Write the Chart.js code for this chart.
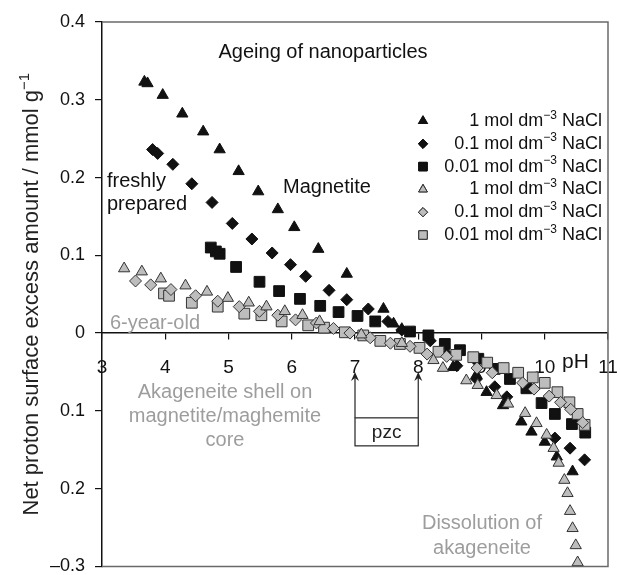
<!DOCTYPE html>
<html>
<head>
<meta charset="utf-8">
<script src="https://cdn.jsdelivr.net/npm/chart.js@4/dist/chart.umd.min.js"></script>
<style>
  body { margin: 0; background: #fff; }
</style>
</head>
<body>
<canvas id="chart" width="620" height="575"></canvas>
<script>
// tick labels
var xTickLabels = ["3", "4", "5", "6", "7", "8", "9", "10", "11"];
var yTickLabels = ["\u20130.3", "0.2", "0.1", "0", "0.1", "0.2", "0.3", "0.4"];

// NaCl concentrations used in the legend
var concLabels = ["1", "0.1", "0.01", "1", "0.1", "0.01"];

// freshly prepared magnetite (black markers)
var freshTriPH = [3.67, 3.72, 3.96, 4.27, 4.60, 4.86, 5.16, 5.47, 5.78, 6.04, 6.42, 6.87, 7.45, 7.61, 7.74, 8.55, 8.92, 9.08, 9.34, 9.63, 9.79, 10.00, 10.19, 10.44];
var freshTriQ = [0.323, 0.321, 0.306, 0.282, 0.259, 0.236, 0.208, 0.182, 0.159, 0.136, 0.108, 0.076, 0.031, 0.012, 0.005, -0.044, -0.054, -0.076, -0.093, -0.114, -0.127, -0.140, -0.159, -0.178];

var freshDiaPH = [3.80, 3.88, 4.12, 4.42, 4.74, 5.06, 5.37, 5.69, 5.98, 6.22, 6.59, 6.87, 7.21, 7.52, 7.74, 8.19, 8.45, 8.61, 8.92, 9.21, 9.40, 10.16, 10.40, 10.63];
var freshDiaQ = [0.236, 0.231, 0.217, 0.192, 0.168, 0.141, 0.121, 0.103, 0.088, 0.073, 0.055, 0.043, 0.031, 0.015, 0.004, -0.010, -0.027, -0.042, -0.059, -0.069, -0.082, -0.135, -0.148, -0.163];

var freshSqPH = [4.72, 4.80, 4.86, 5.12, 5.49, 5.80, 6.13, 6.45, 6.74, 7.04, 7.32, 7.87, 8.16, 8.42, 8.66, 8.95, 9.21, 9.45, 9.71, 9.95, 10.16, 10.43, 10.64];
var freshSqQ = [0.110, 0.105, 0.102, 0.085, 0.066, 0.054, 0.044, 0.035, 0.027, 0.022, 0.015, 0.002, -0.003, -0.014, -0.022, -0.033, -0.046, -0.059, -0.071, -0.090, -0.104, -0.117, -0.128];

// 6-year-old particles (grey markers)
var agedTriPH = [3.35, 3.63, 3.93, 4.32, 4.66, 4.99, 5.32, 5.60, 5.89, 6.17, 6.44, 7.10, 7.74, 8.24, 8.39, 8.76, 8.94, 9.24, 9.42, 9.69, 9.87, 10.03, 10.14, 10.22, 10.31, 10.36, 10.40, 10.44, 10.49, 10.52];
var agedTriQ = [0.083, 0.079, 0.070, 0.061, 0.053, 0.045, 0.039, 0.034, 0.028, 0.023, 0.015, -0.002, -0.013, -0.035, -0.045, -0.061, -0.067, -0.080, -0.091, -0.103, -0.116, -0.131, -0.148, -0.167, -0.189, -0.206, -0.229, -0.251, -0.273, -0.295];

var agedDiaPH = [3.53, 3.77, 4.09, 4.48, 4.83, 5.17, 5.49, 5.78, 6.06, 6.39, 6.66, 6.92, 7.24, 7.56, 7.87, 8.14, 8.45, 8.93, 9.17, 9.65, 9.83, 10.07, 10.25, 10.41, 10.60];
var agedDiaQ = [0.067, 0.062, 0.056, 0.048, 0.041, 0.034, 0.028, 0.023, 0.017, 0.013, 0.006, 0.000, -0.006, -0.013, -0.017, -0.027, -0.030, -0.045, -0.051, -0.064, -0.072, -0.081, -0.089, -0.098, -0.115];

var agedSqPH = [3.98, 4.06, 4.42, 4.83, 5.25, 5.52, 5.84, 6.26, 6.51, 6.84, 7.13, 7.40, 7.71, 8.02, 8.32, 8.60, 8.87, 9.09, 9.35, 9.58, 9.81, 10.00, 10.20, 10.39, 10.52, 10.63];
var agedSqQ = [0.051, 0.048, 0.039, 0.034, 0.025, 0.023, 0.015, 0.010, 0.007, 0.001, -0.003, -0.010, -0.014, -0.019, -0.024, -0.028, -0.031, -0.038, -0.045, -0.051, -0.057, -0.064, -0.076, -0.089, -0.104, -0.118];

var FONT = "'Liberation Sans', Arial, Helvetica, sans-serif";
var GREY_TEXT = "#9d9d9d";

function toPoints(xs, ys) {
    return xs.map(function (x, i) { return { x: x, y: ys[i] }; });
}

function series(xs, ys, style, radius, fill, stroke, order) {
    return {
        data: toPoints(xs, ys),
        pointStyle: style,
        pointRadius: radius,
        pointHoverRadius: radius,
        pointBackgroundColor: fill,
        pointBorderColor: stroke,
        pointBorderWidth: 1,
        showLine: false,
        order: order,
    };
}

var datasets = [
    series(freshTriPH, freshTriQ, "triangle", 6.5, "#111", "#111", 1),
    series(freshDiaPH, freshDiaQ, "rectRot", 6, "#111", "#111", 1),
    series(freshSqPH, freshSqQ, "rect", 7.6, "#111", "#111", 1),
    series(agedTriPH, agedTriQ, "triangle", 6.5, "#bdbdbd", "#333", 0),
    series(agedDiaPH, agedDiaQ, "rectRot", 6, "#bdbdbd", "#333", 0),
    series(agedSqPH, agedSqQ, "rect", 7.6, "#bdbdbd", "#333", 0),
];

// legend markers are drawn a bit smaller than the plotted points
var legendRadius = [5, 4.6, 6, 5, 4.6, 6];

// frame lines on top / right / bottom of the plot
var framePlugin = {
    id: "frame",
    beforeDatasetsDraw: function (chart) {
        var a = chart.chartArea, ctx = chart.ctx;
        ctx.save();
        ctx.strokeStyle = "#6a6a6a";
        ctx.lineWidth = 1.5;
        ctx.beginPath();
        ctx.moveTo(a.left, a.top);
        ctx.lineTo(a.right, a.top);
        ctx.lineTo(a.right, a.bottom);
        ctx.lineTo(a.left, a.bottom);
        ctx.stroke();
        ctx.restore();
    },
};

function drawSup(ctx, x, y, base, sup, size, align) {
    // draws base + superscript, x is the left, centre or right edge
    ctx.font = size + "px " + FONT;
    var wb = ctx.measureText(base).width;
    ctx.font = Math.round(size * 0.68) + "px " + FONT;
    var ws = ctx.measureText(sup).width;
    var left = align === "right" ? x - wb - ws : (align === "center" ? x - (wb + ws) / 2 : x);
    ctx.textAlign = "left";
    ctx.textBaseline = "middle";
    ctx.font = size + "px " + FONT;
    ctx.fillText(base, left, y);
    ctx.font = Math.round(size * 0.68) + "px " + FONT;
    ctx.fillText(sup, left + wb, y - size * 0.32);
    return wb + ws;
}

var notesPlugin = {
    id: "notes",
    afterDatasetsDraw: function (chart) {
        var ctx = chart.ctx;
        var xs = chart.scales.x, ys = chart.scales.y;
        ctx.save();

        // y axis title
        ctx.save();
        ctx.translate(32, (chart.chartArea.top + chart.chartArea.bottom) / 2);
        ctx.rotate(-Math.PI / 2);
        ctx.fillStyle = "#222";
        drawSup(ctx, 0, 0, "Net proton surface excess amount / mmol g", "\u22121", 22, "center");
        ctx.restore();

        ctx.textBaseline = "middle";
        ctx.fillStyle = "#111";
        ctx.font = "20px " + FONT;
        ctx.textAlign = "center";
        ctx.fillText("Ageing of nanoparticles", 323, 52);
        ctx.textAlign = "left";
        ctx.fillText("Magnetite", 283, 187);
        ctx.fillText("freshly", 107, 181);
        ctx.fillText("prepared", 107, 204);
        ctx.font = "21px " + FONT;
        ctx.fillText("pH", 562, 362);

        ctx.fillStyle = GREY_TEXT;
        ctx.font = "20px " + FONT;
        ctx.fillText("6-year-old", 110, 323);
        ctx.textAlign = "center";
        ctx.fillText("Akageneite shell on", 225, 392);
        ctx.fillText("magnetite/maghemite", 225, 416);
        ctx.fillText("core", 225, 440);
        ctx.fillText("Dissolution of", 482, 523);
        ctx.fillText("akageneite", 482, 548);

        // pzc box with arrows to pH 7 and 8
        var x7 = xs.getPixelForValue(7), x8 = xs.getPixelForValue(8);
        var boxTop = ys.getPixelForValue(-0.109), boxBot = ys.getPixelForValue(-0.145);
        var tip = ys.getPixelForValue(-0.05);
        ctx.strokeStyle = "#222";
        ctx.lineWidth = 1.2;
        ctx.strokeRect(x7, boxTop, x8 - x7, boxBot - boxTop);
        [x7, x8].forEach(function (x) {
            ctx.beginPath();
            ctx.moveTo(x, boxTop);
            ctx.lineTo(x, tip + 2);
            ctx.stroke();
            ctx.beginPath();
            ctx.moveTo(x, tip);
            ctx.lineTo(x - 4, tip + 9);
            ctx.lineTo(x, tip + 6);
            ctx.lineTo(x + 4, tip + 9);
            ctx.closePath();
            ctx.fillStyle = "#222";
            ctx.fill();
        });
        ctx.fillStyle = "#222";
        ctx.textAlign = "center";
        ctx.font = "19px " + FONT;
        ctx.fillText("pzc", (x7 + x8) / 2, (boxTop + boxBot) / 2 + 1);

        // legend
        chart.data.datasets.forEach(function (ds, i) {
            var y = 121 + i * 22.8;
            Chart.helpers.drawPoint(ctx, {
                pointStyle: ds.pointStyle,
                radius: legendRadius[i],
                borderWidth: 1,
                rotation: 0,
            }, 423, y);
            ctx.fillStyle = ds.pointBackgroundColor;
            ctx.strokeStyle = ds.pointBorderColor;
            ctx.lineWidth = 1;
            ctx.fill();
            ctx.stroke();

            ctx.fillStyle = "#111";
            ctx.font = "18px " + FONT;
            ctx.textAlign = "right";
            var tail = " NaCl";
            var wt = ctx.measureText(tail).width;
            ctx.fillText(tail, 602, y);
            drawSup(ctx, 602 - wt, y, concLabels[i] + " mol dm", "\u22123", 18, "right");
        });

        ctx.restore();
    },
};

var chart = new Chart(document.getElementById("chart"), {
    type: "scatter",
    data: { datasets: datasets },
    plugins: [framePlugin, notesPlugin],
    options: {
        responsive: false,
        animation: false,
        layout: { padding: { top: 22, right: 12, bottom: 4, left: 0 } },
        plugins: {
            legend: { display: false },
            tooltip: { enabled: false },
        },
        scales: {
            x: {
                type: "linear",
                min: 3,
                max: 11,
                position: { y: 0 },
                border: { color: "#111", width: 1.5 },
                grid: { drawOnChartArea: false, drawTicks: true, tickLength: 6, color: "#111", lineWidth: 1.2 },
                ticks: {
                    stepSize: 1,
                    autoSkip: false,
                    maxRotation: 0,
                    padding: 17,
                    color: "#111",
                    font: { size: 19, family: FONT },
                    callback: function (value, index) {
                        return xTickLabels[index];
                    },
                },
                afterFit: function (s) {
                    s.paddingLeft = 0;
                    s.paddingRight = 0;
                },
            },
            y: {
                type: "linear",
                min: -0.3,
                max: 0.4,
                border: { color: "#111", width: 1.5 },
                grid: { drawOnChartArea: false, drawTicks: true, tickLength: 7, color: "#111", lineWidth: 1.2 },
                ticks: {
                    stepSize: 0.1,
                    padding: 10,
                    color: "#111",
                    font: { size: 18, family: FONT },
                    callback: function (value, index) {
                        return yTickLabels[index];
                    },
                },
                afterFit: function (s) {
                    s.width = 102;
                    s.paddingTop = 0;
                    s.paddingBottom = 0;
                },
            },
        },
    },
});
</script>
</body>
</html>
